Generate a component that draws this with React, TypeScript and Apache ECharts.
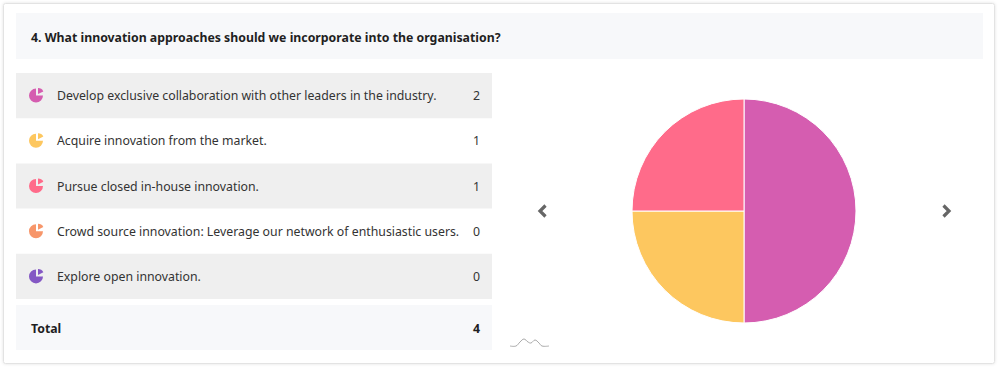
import React, { useEffect, useRef } from "react";
import * as echarts from "echarts";

const title = "4. What innovation approaches should we incorporate into the organisation?";
const categories = [
  "Develop exclusive collaboration with other leaders in the industry.",
  "Acquire innovation from the market.",
  "Pursue closed in-house innovation.",
  "Crowd source innovation: Leverage our network of enthusiastic users.",
  "Explore open innovation.",
];
const counts = [2, 1, 1, 0, 0];
const colors = ["#d55db0", "#fdc75f", "#ff6b8a", "#f7966a", "#8458c4"];
const totalLabel = "Total";

const FONT = "'Noto Sans', 'Open Sans', sans-serif";
const FS = 12.3;

export default function App() {
  const ref = useRef<HTMLDivElement>(null);
  useEffect(() => {
    if (!ref.current) return;
    const chart = echarts.init(ref.current, undefined, { renderer: "svg" });
    const total = counts.reduce((a, b) => a + b, 0);

    const graphics: any[] = [];
    // card
    graphics.push({
      type: "rect",
      shape: { x: 3.5, y: 3.5, width: 991, height: 360, r: 2 },
      style: { fill: "#fff", stroke: "#e3e3e3", lineWidth: 1, shadowBlur: 3, shadowColor: "rgba(0,0,0,0.12)" },
      z: 0,
    });
    // title bar
    graphics.push({
      type: "rect",
      shape: { x: 16, y: 13, width: 967, height: 46 },
      style: { fill: "#f7f8fa" },
      z: 1,
    });
    graphics.push({
      type: "text",
      x: 31,
      y: 37,
      style: { text: title, font: `bold ${FS}px ${FONT}`, fill: "#1f1f1f", textVerticalAlign: "middle" },
      z: 2,
    });

    const rowTop = 73;
    const rowH = 45.2;
    categories.forEach((c, i) => {
      const top = rowTop + rowH * i;
      const cy = top + rowH / 2;
      if (i % 2 === 0) {
        graphics.push({
          type: "rect",
          shape: { x: 16, y: top, width: 476, height: rowH },
          style: { fill: "#efefef" },
          z: 1,
        });
      }
      // icon: pie with slice pulled out
      graphics.push({
        type: "sector",
        shape: { cx: 36, cy: cy, r: 7, r0: 0, startAngle: 0, endAngle: Math.PI * 1.5, clockwise: true },
        style: { fill: colors[i] },
        z: 2,
      });
      graphics.push({
        type: "sector",
        shape: { cx: 38, cy: cy - 1.5, r: 6, r0: 0, startAngle: Math.PI * 1.5, endAngle: Math.PI * 1.85, clockwise: true },
        style: { fill: colors[i] },
        z: 2,
      });
      graphics.push({
        type: "text",
        x: 57,
        y: cy,
        style: { text: c, font: `${FS}px ${FONT}`, fill: "#333", textVerticalAlign: "middle" },
        z: 2,
      });
      graphics.push({
        type: "text",
        x: 480,
        y: cy,
        style: { text: String(counts[i]), font: `${FS}px ${FONT}`, fill: "#333", textAlign: "right", textVerticalAlign: "middle" },
        z: 2,
      });
    });
    // total row
    graphics.push({
      type: "rect",
      shape: { x: 16, y: 305, width: 476, height: 45 },
      style: { fill: "#f7f8fa" },
      z: 1,
    });
    graphics.push({
      type: "text",
      x: 31,
      y: 328,
      style: { text: totalLabel, font: `bold ${FS}px ${FONT}`, fill: "#1f1f1f", textVerticalAlign: "middle" },
      z: 2,
    });
    graphics.push({
      type: "text",
      x: 480,
      y: 328,
      style: { text: String(total), font: `bold ${FS}px ${FONT}`, fill: "#1f1f1f", textAlign: "right", textVerticalAlign: "middle" },
      z: 2,
    });
    // chevrons
    graphics.push({
      type: "polyline",
      shape: { points: [[545.5, 205.5], [540, 211], [545.5, 216.5]] },
      style: { stroke: "#666", lineWidth: 3.2, fill: null },
      z: 2,
    });
    graphics.push({
      type: "polyline",
      shape: { points: [[943.5, 205.5], [949, 211], [943.5, 216.5]] },
      style: { stroke: "#666", lineWidth: 3.2, fill: null },
      z: 2,
    });
    // small sparkline decoration
    graphics.push({
      type: "polyline",
      shape: {
        points: [[510, 346], [516, 346], [520, 342], [524, 339], [528, 342], [531, 343], [535, 340], [539, 343], [542, 346], [549, 346]],
        smooth: 0.4,
      },
      style: { stroke: "#aaa", lineWidth: 1, fill: null },
      z: 2,
    });

    const pieData = categories
      .map((c, i) => ({ name: c, value: counts[i], itemStyle: { color: colors[i] } }))
      .filter((d) => d.value > 0);

    chart.setOption({
      animation: false,
      graphic: { elements: graphics },
      series: [
        {
          type: "pie",
          center: [744, 211],
          radius: 112,
          startAngle: 90,
          clockwise: true,
          label: { show: false },
          labelLine: { show: false },
          itemStyle: { borderColor: "#fff", borderWidth: 1 },
          emphasis: { disabled: true },
          data: pieData,
          z: 3,
        },
      ],
    });
    return () => chart.dispose();
  }, []);
  return (
    <div
      ref={ref}
      style={{ position: "fixed", left: 0, top: 0, width: 1000, height: 370, background: "#fff" }}
    />
  );
}
